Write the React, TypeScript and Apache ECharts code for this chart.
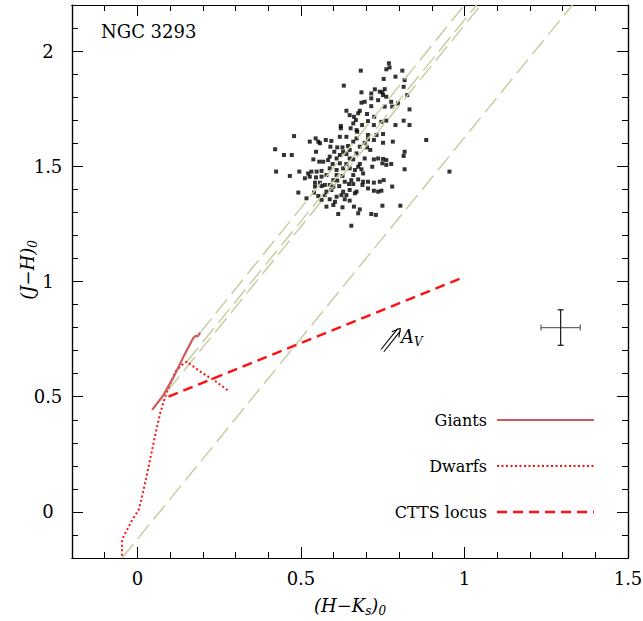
import React, { useEffect, useRef } from 'react';
import * as echarts from 'echarts';

const X_MIN = -0.2;
const X_MAX = 1.5;
const Y_MIN = -0.2;
const Y_MAX = 2.2;

const xMajorTicks = [0, 0.5, 1, 1.5];
const xMinorTicks = [-0.1, 0.1, 0.2, 0.3, 0.4, 0.6, 0.7, 0.8, 0.9, 1.1, 1.2, 1.3, 1.4];
const yMajorTicks = [0, 0.5, 1, 1.5, 2];
const yMinorTicks = [-0.1, 0.1, 0.2, 0.3, 0.4, 0.6, 0.7, 0.8, 0.9, 1.1, 1.2, 1.3, 1.4, 1.6, 1.7, 1.8, 1.9, 2.1];

// (H-Ks)_0, (J-H)_0 of cluster stars
const stars: [number, number][] = [
  [0.769, 1.947], [0.771, 1.929], [0.761, 1.921], [0.683, 1.915], [0.810, 1.915], [0.753, 1.879], [0.789, 1.889], [0.817, 1.874], [0.631, 1.850], [0.814, 1.845],
  [0.726, 1.834], [0.756, 1.835], [0.749, 1.821], [0.741, 1.824], [0.715, 1.816], [0.751, 1.809], [0.761, 1.802], [0.685, 1.821], [0.825, 1.809],
  [0.695, 1.780], [0.685, 1.776], [0.715, 1.795], [0.736, 1.787], [0.776, 1.780], [0.779, 1.759], [0.797, 1.773], [0.715, 1.761], [0.756, 1.759], [0.832, 1.747],
  [0.639, 1.741], [0.680, 1.741], [0.675, 1.730], [0.649, 1.722], [0.662, 1.715], [0.702, 1.727], [0.668, 1.701], [0.724, 1.715], [0.761, 1.698], [0.814, 1.698], [0.746, 1.693],
  [0.660, 1.686], [0.705, 1.696], [0.622, 1.675], [0.622, 1.665], [0.652, 1.665], [0.670, 1.657], [0.687, 1.679], [0.723, 1.679], [0.832, 1.679], [0.789, 1.679],
  [0.672, 1.650], [0.705, 1.636], [0.731, 1.636], [0.751, 1.640], [0.705, 1.617], [0.639, 1.628], [0.619, 1.628], [0.670, 1.621], [0.723, 1.614], [0.695, 1.602], [0.660, 1.607],
  [0.479, 1.631], [0.527, 1.607], [0.545, 1.621], [0.553, 1.607], [0.558, 1.600], [0.576, 1.614], [0.593, 1.610], [0.883, 1.614], [0.751, 1.602], [0.781, 1.607],
  [0.421, 1.574], [0.590, 1.585], [0.611, 1.582], [0.627, 1.582], [0.644, 1.588], [0.649, 1.571], [0.680, 1.585], [0.702, 1.582], [0.712, 1.571],
  [0.546, 1.563], [0.602, 1.563], [0.629, 1.563], [0.619, 1.549], [0.639, 1.553], [0.670, 1.556], [0.448, 1.549], [0.472, 1.549],
  [0.538, 1.530], [0.588, 1.542], [0.609, 1.534], [0.649, 1.534], [0.660, 1.530], [0.695, 1.534], [0.723, 1.530], [0.736, 1.534], [0.751, 1.532], [0.761, 1.527], [0.817, 1.563], [0.814, 1.545],
  [0.556, 1.520], [0.568, 1.520], [0.583, 1.527], [0.597, 1.510], [0.619, 1.513], [0.639, 1.510], [0.680, 1.510], [0.718, 1.498], [0.749, 1.513], [0.761, 1.506], [0.776, 1.510],
  [0.424, 1.477], [0.495, 1.477], [0.522, 1.469], [0.532, 1.477], [0.548, 1.477], [0.563, 1.480], [0.588, 1.491], [0.609, 1.484], [0.629, 1.491], [0.649, 1.491], [0.665, 1.484], [0.675, 1.498], [0.685, 1.487], [0.817, 1.487], [0.954, 1.477],
  [0.466, 1.458], [0.512, 1.448], [0.527, 1.455], [0.546, 1.452], [0.563, 1.455], [0.578, 1.462], [0.609, 1.462], [0.627, 1.458], [0.660, 1.462], [0.690, 1.469], [0.599, 1.440],
  [0.543, 1.429], [0.558, 1.429], [0.573, 1.419], [0.588, 1.419], [0.611, 1.438], [0.634, 1.433], [0.654, 1.440], [0.675, 1.443], [0.690, 1.433], [0.705, 1.433], [0.723, 1.429], [0.741, 1.433], [0.753, 1.440],
  [0.543, 1.412], [0.563, 1.414], [0.599, 1.412], [0.617, 1.414], [0.647, 1.423], [0.660, 1.423], [0.688, 1.419], [0.779, 1.412],
  [0.492, 1.386], [0.540, 1.386], [0.578, 1.390], [0.593, 1.397], [0.629, 1.390], [0.649, 1.397], [0.670, 1.390], [0.705, 1.404], [0.723, 1.394], [0.736, 1.390], [0.746, 1.394],
  [0.553, 1.371], [0.573, 1.375], [0.609, 1.368], [0.624, 1.375], [0.639, 1.375], [0.665, 1.383],
  [0.517, 1.361], [0.563, 1.354], [0.588, 1.357], [0.604, 1.346], [0.634, 1.357], [0.649, 1.351],
  [0.578, 1.325], [0.599, 1.332], [0.627, 1.322], [0.662, 1.325], [0.680, 1.313], [0.749, 1.329], [0.804, 1.329],
  [0.675, 1.296], [0.614, 1.293], [0.715, 1.293], [0.729, 1.289], [0.654, 1.242],
];

const giantsLocus: [number, number][] = [
  [0.045, 0.443], [0.080, 0.508], [0.111, 0.587], [0.141, 0.674], [0.170, 0.753], [0.177, 0.764], [0.184, 0.762], [0.192, 0.778],
];

const dwarfsLocus: [number, number][] = [
  [-0.047, -0.19], [-0.047, -0.121], [-0.037, -0.092], [-0.016, -0.035], [0.004, 0.009], [0.014, 0.066], [0.030, 0.168],
  [0.045, 0.269], [0.060, 0.370], [0.070, 0.430], [0.085, 0.500], [0.095, 0.537], [0.116, 0.609], [0.136, 0.638],
  [0.151, 0.652], [0.192, 0.609], [0.233, 0.573], [0.278, 0.526],
];

const cttsLocus: [number, number][] = [[0.095, 0.500], [1.0, 1.02]];

const reddeningLines: [number, number][][] = [
  [[0.192, 0.778], [1.0, 2.2]],
  [[0.045, 0.443], [1.05, 2.2]],
  [[0.151, 0.652], [1.037, 2.2]],
  [[-0.047, -0.2], [1.33, 2.2]],
];

// [x, y, xErr, yErr]
const errorCross = [[1.294, 0.80, 0.06, 0.077]];
// [tailX, tailY, headX, headY, labelX, labelY]
const avVector = [[0.749, 0.700, 0.804, 0.797, 0.806, 0.762]];

const FONT = 'DejaVu Serif';

function makeX(position: 'top' | 'bottom', major: boolean, label: boolean) {
  return {
    type: 'value',
    min: X_MIN,
    max: X_MAX,
    position,
    axisLine: { show: true, onZero: false, lineStyle: { color: '#000', width: 1.2 } },
    axisTick: {
      show: true,
      inside: true,
      length: major ? 11 : 6,
      customValues: major ? xMajorTicks : xMinorTicks,
      lineStyle: { color: '#000', width: 1 },
    },
    axisLabel: {
      show: label,
      customValues: xMajorTicks,
      formatter: (v: number) => String(v),
      fontFamily: FONT,
      fontSize: 18,
      color: '#000',
      margin: 11,
    },
    splitLine: { show: false },
  };
}

function makeY(position: 'left' | 'right', major: boolean, label: boolean) {
  return {
    type: 'value',
    min: Y_MIN,
    max: Y_MAX,
    position,
    axisLine: { show: true, onZero: false, lineStyle: { color: '#000', width: 1.2 } },
    axisTick: {
      show: true,
      inside: true,
      length: major ? 11 : 6,
      customValues: major ? yMajorTicks : yMinorTicks,
      lineStyle: { color: '#000', width: 1 },
    },
    axisLabel: {
      show: label,
      customValues: yMajorTicks,
      formatter: (v: number) => String(v),
      fontFamily: FONT,
      fontSize: 18,
      color: '#000',
      align: 'center',
      margin: 24,
    },
    splitLine: { show: false },
  };
}

const GIANT_COLOR = '#cc5a5a';
const RED = '#ff1010';
const KHAKI = '#c9c99e';

export default function App() {
  const ref = useRef<HTMLDivElement>(null);

  useEffect(() => {
    if (!ref.current) return;
    const chart = echarts.init(ref.current, null, { renderer: 'svg' });

    const series: any[] = [
      {
        type: 'scatter',
        data: stars,
        symbol: 'rect',
        symbolSize: 4,
        itemStyle: { color: '#000' },
        silent: true,
      },
      ...reddeningLines.map((d) => ({
        type: 'line',
        data: d,
        symbol: 'none',
        silent: true,
        lineStyle: { color: KHAKI, width: 1.4, type: [18, 7] },
      })),
      {
        type: 'line',
        data: cttsLocus,
        symbol: 'none',
        silent: true,
        lineStyle: { color: RED, width: 2.4, type: [10, 6] },
      },
      {
        type: 'line',
        data: dwarfsLocus,
        symbol: 'none',
        silent: true,
        lineStyle: { color: RED, width: 2, type: [2, 2.5] },
      },
      {
        type: 'line',
        data: giantsLocus,
        symbol: 'none',
        silent: true,
        lineStyle: { color: GIANT_COLOR, width: 2.2 },
      },
      {
        type: 'custom',
        data: errorCross,
        silent: true,
        clip: false,
        renderItem: (_p: any, api: any) => {
          const x = api.value(0), y = api.value(1), ex = api.value(2), ey = api.value(3);
          const l = api.coord([x - ex, y]);
          const r = api.coord([x + ex, y]);
          const t = api.coord([x, y + ey]);
          const b = api.coord([x, y - ey]);
          const cap = 3;
          const hs = { stroke: '#666', lineWidth: 1.3 };
          const vs = { stroke: '#222', lineWidth: 1.3 };
          return {
            type: 'group',
            children: [
              { type: 'line', shape: { x1: l[0], y1: l[1], x2: r[0], y2: r[1] }, style: hs },
              { type: 'line', shape: { x1: l[0], y1: l[1] - cap, x2: l[0], y2: l[1] + cap }, style: hs },
              { type: 'line', shape: { x1: r[0], y1: r[1] - cap, x2: r[0], y2: r[1] + cap }, style: hs },
              { type: 'line', shape: { x1: t[0], y1: t[1], x2: b[0], y2: b[1] }, style: vs },
              { type: 'line', shape: { x1: t[0] - cap, y1: t[1], x2: t[0] + cap, y2: t[1] }, style: vs },
              { type: 'line', shape: { x1: b[0] - cap, y1: b[1], x2: b[0] + cap, y2: b[1] }, style: vs },
            ],
          };
        },
      },
      {
        type: 'custom',
        data: avVector,
        silent: true,
        clip: false,
        renderItem: (_p: any, api: any) => {
          const p0 = api.coord([api.value(0), api.value(1)]);
          const p1 = api.coord([api.value(2), api.value(3)]);
          const pl = api.coord([api.value(4), api.value(5)]);
          const dx = p1[0] - p0[0], dy = p1[1] - p0[1];
          const len = Math.sqrt(dx * dx + dy * dy);
          const ux = dx / len, uy = dy / len;
          const nx = -uy, ny = ux;
          const st = { stroke: '#000', lineWidth: 1.1 };
          const off = 1.8;
          const hb = 8, hw = 4.5;
          return {
            type: 'group',
            children: [
              { type: 'line', shape: { x1: p0[0] + nx * off, y1: p0[1] + ny * off, x2: p1[0] - ux * 2 + nx * off, y2: p1[1] - uy * 2 + ny * off }, style: st },
              { type: 'line', shape: { x1: p0[0] - nx * off, y1: p0[1] - ny * off, x2: p1[0] - ux * 2 - nx * off, y2: p1[1] - uy * 2 - ny * off }, style: st },
              { type: 'line', shape: { x1: p1[0], y1: p1[1], x2: p1[0] - ux * hb + nx * hw, y2: p1[1] - uy * hb + ny * hw }, style: st },
              { type: 'line', shape: { x1: p1[0], y1: p1[1], x2: p1[0] - ux * hb - nx * hw, y2: p1[1] - uy * hb - ny * hw }, style: st },
              {
                type: 'text',
                x: pl[0],
                y: pl[1],
                style: {
                  text: '{a|A}{s|V}',
                  align: 'left',
                  verticalAlign: 'middle',
                  fill: '#000',
                  rich: {
                    a: { fontFamily: FONT, fontStyle: 'italic', fontSize: 18, lineHeight: 24 },
                    s: { fontFamily: FONT, fontStyle: 'italic', fontSize: 12, lineHeight: 12, verticalAlign: 'bottom' },
                  },
                },
              },
            ],
          };
        },
      },
    ];

    const legendItems = [
      { name: 'Giants', y: 420, stroke: GIANT_COLOR, width: 2.2, dash: null as any },
      { name: 'Dwarfs', y: 466, stroke: RED, width: 2, dash: [2, 2.5] },
      { name: 'CTTS locus', y: 512, stroke: RED, width: 2.4, dash: [10, 6] },
    ];

    const graphic: any[] = [
      {
        type: 'text',
        left: 101,
        top: 22,
        style: { text: 'NGC 3293', fontFamily: FONT, fontSize: 18, fill: '#000' },
      },
      {
        type: 'text',
        x: 350,
        y: 605,
        style: {
          text: '{i|(H\u2212K}{s|s}{i|)}{s|0}',
          align: 'center',
          verticalAlign: 'middle',
          fill: '#000',
          rich: {
            i: { fontFamily: FONT, fontStyle: 'italic', fontSize: 18, lineHeight: 24 },
            s: { fontFamily: FONT, fontStyle: 'italic', fontSize: 12, lineHeight: 12, verticalAlign: 'bottom' },
          },
        },
      },
      {
        type: 'text',
        x: 27,
        y: 270,
        rotation: Math.PI / 2,
        style: {
          text: '{i|(J\u2212H)}{s|0}',
          align: 'center',
          verticalAlign: 'middle',
          fill: '#000',
          rich: {
            i: { fontFamily: FONT, fontStyle: 'italic', fontSize: 18, lineHeight: 24 },
            s: { fontFamily: FONT, fontStyle: 'italic', fontSize: 12, lineHeight: 12, verticalAlign: 'bottom' },
          },
        },
      },
      ...legendItems.flatMap((it) => [
        {
          type: 'text',
          x: 487,
          y: it.y,
          style: { text: it.name, align: 'right', verticalAlign: 'middle', fontFamily: FONT, fontSize: 16, fill: '#000' },
        },
        {
          type: 'line',
          shape: { x1: 497, y1: it.y, x2: 594, y2: it.y },
          style: { stroke: it.stroke, lineWidth: it.width, lineDash: it.dash || undefined },
        },
      ]),
    ];

    chart.setOption({
      animation: false,
      backgroundColor: '#fff',
      grid: { left: 72, right: 15, top: 5, bottom: 63, outerBoundsMode: 'none' },
      xAxis: [makeX('bottom', true, true), makeX('bottom', false, false), makeX('top', true, false), makeX('top', false, false)],
      yAxis: [makeY('left', true, true), makeY('left', false, false), makeY('right', true, false), makeY('right', false, false)],
      series,
      graphic,
    });

    return () => chart.dispose();
  }, []);

  return <div ref={ref} style={{ position: 'absolute', left: 0, top: 0, width: 643, height: 621 }} />;
}
